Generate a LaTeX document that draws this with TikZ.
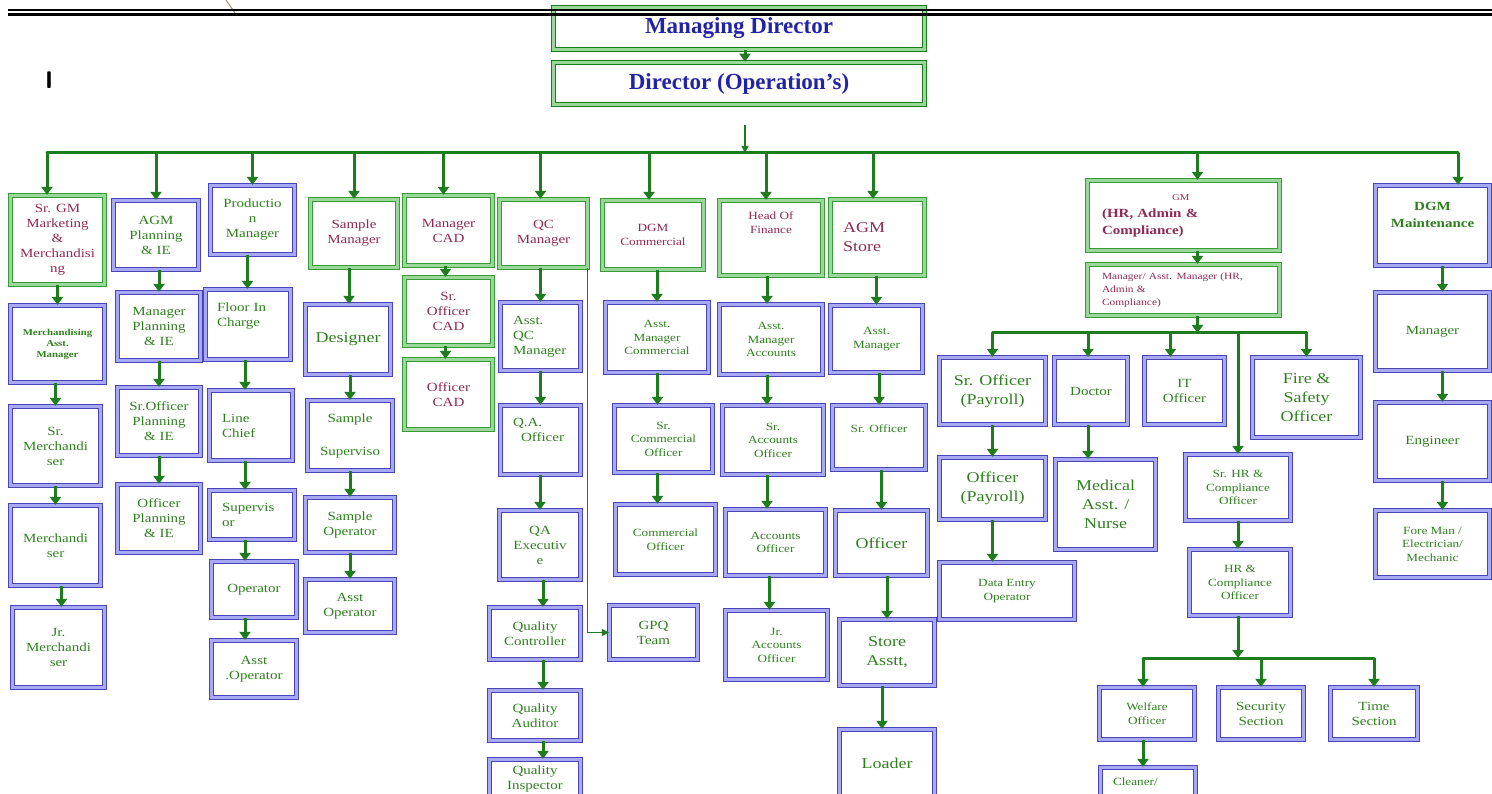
\documentclass[tikz,border=0pt]{standalone}
\usepackage{fontspec}
\setmainfont{Liberation Serif}
\newfontfamily\boxfont[FakeStretch=1.2]{Liberation Serif}
\usetikzlibrary{arrows.meta}
\definecolor{lgreen}{HTML}{1E7B1E}
\definecolor{gframe}{HTML}{3A9A3A}
\definecolor{gfill}{HTML}{9AD89A}
\definecolor{bframe}{HTML}{4646B8}
\definecolor{bfill}{HTML}{A8A8F5}
\definecolor{maroon}{HTML}{8E2A55}
\definecolor{tgreen}{HTML}{2F7F1F}
\definecolor{tblue}{HTML}{2323A6}
\definecolor{penbrown}{HTML}{B08A6A}
\tikzset{
	orgnode/.style={rectangle, align=center, inner sep=2pt, line width=1.3pt, double distance=2.4pt},
	gbox/.style={orgnode, draw=gframe, double=gfill, text=maroon},
	bbox/.style={orgnode, draw=bframe, double=bfill, text=tgreen},
	topbox/.style={orgnode, draw=lgreen, double=gfill, line width=1.6pt, double distance=2.2pt, text=tblue, font=\fontsize{23}{26}\selectfont\bfseries},
	tinytext/.style={font=\boxfont\fontsize{9.5}{13}\selectfont},
	boldtiny/.style={font=\boxfont\fontsize{9}{11}\selectfont\bfseries},
	smalltext/.style={font=\boxfont\fontsize{11}{13.5}\selectfont},
	midtext/.style={font=\boxfont\fontsize{12.5}{15}\selectfont},
	boldmid/.style={font=\boxfont\fontsize{12.5}{17}\selectfont\bfseries},
	bigtext/.style={font=\boxfont\fontsize{15}{19}\selectfont},
	leftset/.style={align=left, text width=#1},
	arr/.style={draw=lgreen, line width=3pt, -{Triangle[width=11pt,length=8pt]}},
	thinarr/.style={draw=lgreen, line width=1.3pt, -{Triangle[width=7pt,length=7pt]}},
	busline/.style={draw=lgreen, line width=3pt, line cap=round}
}
\def\orgbox[#1](#2)(#3:#4:#5:#6)#7{\node[#1, minimum width={(#5-#3-5)*1pt}, minimum height={(#6-#4-5)*1pt}] (#2) at ({(#3+#5)/2},{(#4+#6)/2}) {#7};}

\begin{document}
\begin{tikzpicture}[x=1pt, y=-1pt]
			%%%%% START %%%%%
			\useasboundingbox (0,0) rectangle (1492,794);
			\clip (0,0) rectangle (1492,794);
			
			\draw[penbrown, line width=1pt] (226,0) -- (235,13);
			\node[font=\sffamily\bfseries\fontsize{24}{24}\selectfont] (mark) at (49,80) {I};
			
			\orgbox[topbox](md)(551:5:927:52){Managing Director}
			\orgbox[topbox](dirops)(551:60:927:107){Director (Operation’s)}
			
			\draw[line width=1.2pt] (8,10) -- (1492,10);
			\draw[line width=3.4pt] (8,14.4) -- (1492,14.4);
			
			\orgbox[gbox,midtext](srgm)(8:193:107:287){Sr. GM\\Marketing\\\&\\Merchandisi\\ng}
			\orgbox[bbox,boldtiny](mam)(8:303:107:385){Merchandising\\Asst.\\Manager}
			\orgbox[bbox,midtext](srmer)(8:404:103:488){Sr.\\Merchandi\\ser}
			\orgbox[bbox,midtext](mer)(8:503:103:588){Merchandi\\ser}
			\orgbox[bbox,midtext](jrmer)(10:605:107:690){Jr.\\Merchandi\\ser}
			
			\orgbox[bbox,midtext](agmp)(111:198:201:272){AGM\\Planning\\\& IE}
			\orgbox[bbox,midtext](mgrp)(115:290:203:363){Manager\\Planning\\\& IE}
			\orgbox[bbox,midtext](srop)(115:385:203:458){Sr.Officer\\Planning\\\& IE}
			\orgbox[bbox,midtext](offp)(115:482:203:555){Officer\\Planning\\\& IE}
			
			\orgbox[bbox,midtext](prodm)(208:183:297:257){Productio\\n\\Manager}
			\orgbox[bbox,midtext,leftset=62pt](floor)(203:287:293:362){Floor In\\Charge\\\strut}
			\orgbox[bbox,midtext,leftset=58pt](line)(207:388:295:463){Line\\Chief}
			\orgbox[bbox,midtext,leftset=60pt](sup)(207:488:297:542){Supervis\\or}
			\orgbox[bbox,midtext](oper)(209:559:299:620){Operator}
			\orgbox[bbox,midtext](asstop)(209:638:299:700){Asst\\.Operator}
			
			\orgbox[gbox,midtext](sampm)(308:197:400:270){Sample\\Manager}
			\orgbox[bbox,bigtext](design)(303:302:393:377){Designer}
			\orgbox[bbox,midtext](sampsup)(305:398:395:473){Sample\\[18pt]Superviso}
			\orgbox[bbox,midtext](sampop)(303:495:397:555){Sample\\Operator}
			\orgbox[bbox,midtext](asstopb)(303:577:397:635){Asst\\Operator}
			
			\orgbox[gbox,midtext](mcad)(402:193:495:268){Manager\\CAD}
			\orgbox[gbox,midtext](srcad)(402:275:495:348){Sr.\\Officer\\CAD}
			\orgbox[gbox,midtext](ocad)(402:357:495:432){Officer\\CAD}
			
			\orgbox[gbox,midtext](qcm)(497:197:590:270){QC\\Manager}
			\orgbox[bbox,midtext,leftset=55pt](aqcm)(498:300:583:373){Asst.\\QC\\Manager}
			\orgbox[bbox,midtext,leftset=55pt](qao)(498:403:583:477){Q.A.\\\hspace*{8pt}Officer\\\strut}
			\orgbox[bbox,midtext](qae)(497:508:583:582){QA\\Executiv\\e}
			\orgbox[bbox,midtext](qcon)(487:605:583:662){Quality\\Controller}
			\orgbox[bbox,midtext](qaud)(487:688:583:743){Quality\\Auditor}
			\orgbox[bbox,midtext](qins)(487:757:583:801){Quality\\Inspector}
			\orgbox[bbox,midtext](gpq)(607:603:700:662){GPQ\\Team}
			
			\orgbox[gbox,smalltext](dgmc)(600:198:706:272){DGM\\Commercial}
			\orgbox[bbox,smalltext](amc)(603:300:711:375){Asst.\\Manager\\Commercial}
			\orgbox[bbox,smalltext](scom)(612:403:715:475){Sr.\\Commercial\\Officer}
			\orgbox[bbox,smalltext](com)(613:502:718:577){Commercial\\Officer}
			
			\orgbox[gbox,smalltext](hof)(717:198:825:278){Head Of\\Finance\\\strut\\\strut}
			\orgbox[bbox,smalltext](ama)(717:302:825:377){Asst.\\Manager\\Accounts}
			\orgbox[bbox,smalltext](sao)(720:403:826:477){Sr.\\Accounts\\Officer}
			\orgbox[bbox,smalltext](ao)(723:507:828:578){Accounts\\Officer}
			\orgbox[bbox,smalltext](jao)(723:608:830:682){Jr.\\Accounts\\Officer}
			
			\orgbox[gbox,bigtext,leftset=69pt](agms)(828:197:927:278){AGM\\Store}
			\orgbox[bbox,smalltext](asm)(828:303:925:375){Asst.\\Manager}
			\orgbox[bbox,smalltext](sro)(830:403:928:472){Sr. Officer\\\strut}
			\orgbox[bbox,bigtext](storeoff)(833:508:930:578){Officer}
			\orgbox[bbox,bigtext](sta)(837:617:937:688){Store\\Asstt,}
			\orgbox[bbox,bigtext](load)(837:727:937:800){Loader}
			
			\orgbox[gbox,boldmid,leftset=163pt](gmhr)(1085:178:1282:253){\hspace*{70pt}{\mdseries\fontsize{9}{10}\selectfont GM}\\(HR, Admin \&\\Compliance)}
			\orgbox[gbox,tinytext,leftset=163pt](mgrhr)(1085:262:1282:318){Manager/ Asst. Manager (HR,\\Admin \&\\Compliance)}
			\orgbox[bbox,bigtext](srpay)(937:355:1048:427){Sr. Officer\\(Payroll)}
			\orgbox[bbox,midtext](doctor)(1052:355:1130:427){Doctor}
			\orgbox[bbox,midtext](itoff)(1142:355:1227:427){IT\\Officer}
			\orgbox[bbox,bigtext](fire)(1250:355:1363:440){Fire \&\\Safety\\Officer}
			\orgbox[bbox,bigtext](opay)(937:455:1048:522){Officer\\(Payroll)}
			\orgbox[bbox,bigtext](med)(1053:457:1158:552){Medical\\Asst. /\\Nurse}
			\orgbox[bbox,smalltext](deo)(937:560:1077:622){Data Entry\\Operator}
			\orgbox[bbox,smalltext](srhr)(1183:452:1293:523){Sr. HR \&\\Compliance\\Officer}
			\orgbox[bbox,smalltext](hrco)(1187:547:1293:618){HR \&\\Compliance\\Officer}
			\orgbox[bbox,smalltext](welf)(1097:685:1197:742){Welfare\\Officer}
			\orgbox[bbox,midtext](sec)(1216:685:1306:742){Security\\Section}
			\orgbox[bbox,midtext](timesec)(1328:685:1420:742){Time\\Section}
			\orgbox[bbox,smalltext,leftset=70pt](clean)(1098:765:1198:815){Cleaner/\\\strut}
			
			\orgbox[bbox,boldmid](dgmm)(1373:183:1492:268){DGM\\Maintenance\\\strut}
			\orgbox[bbox,midtext](mman)(1373:290:1492:373){Manager}
			\orgbox[bbox,midtext](eng)(1373:400:1492:483){Engineer}
			\orgbox[bbox,smalltext](fore)(1373:508:1492:580){Fore Man /\\Electrician/\\Mechanic}
			
			\coordinate (opsgap) at (745,125);
			\coordinate (bus) at (745,153);
			\coordinate (hrbus) at (1197,333);
			\coordinate (cbus) at (1238,658);
			
			\draw[arr] ([xshift=6pt]md.south) -- ([xshift=6pt]dirops.north);
			\draw[thinarr] (opsgap) -- (bus);
			\draw[busline] ([xshift=-10.5pt]srgm.north |- bus) -- ([xshift=25.5pt]dgmm.north |- bus);
			\draw[arr] ([xshift=-10.5pt]srgm.north |- bus) -- ([xshift=-10.5pt]srgm.north);
			\draw[arr] (agmp.north |- bus) -- (agmp.north);
			\draw[arr] (prodm.north |- bus) -- (prodm.north);
			\draw[arr] (sampm.north |- bus) -- (sampm.north);
			\draw[arr] ([xshift=-5pt]mcad.north |- bus) -- ([xshift=-5pt]mcad.north);
			\draw[arr] ([xshift=-3pt]qcm.north |- bus) -- ([xshift=-3pt]qcm.north);
			\draw[arr] ([xshift=-4pt]dgmc.north |- bus) -- ([xshift=-4pt]dgmc.north);
			\draw[arr] ([xshift=-5pt]hof.north |- bus) -- ([xshift=-5pt]hof.north);
			\draw[arr] ([xshift=-4.5pt]agms.north |- bus) -- ([xshift=-4.5pt]agms.north);
			\draw[arr] ([xshift=14pt]gmhr.north |- bus) -- ([xshift=14pt]gmhr.north);
			\draw[arr] ([xshift=25.5pt]dgmm.north |- bus) -- ([xshift=25.5pt]dgmm.north);
			
			\draw[arr] (srgm.south -| mam.north) -- (mam.north);
			\draw[arr] (mam.south -| srmer.north) -- (srmer.north);
			\draw[arr] (srmer.south -| mer.north) -- (mer.north);
			\draw[arr] ([xshift=6pt]mer.south) -- ([xshift=6pt]mer.south |- jrmer.north);
			
			\draw[arr] (agmp.south -| mgrp.north) -- (mgrp.north);
			\draw[arr] (mgrp.south) -- (srop.north);
			\draw[arr] (srop.south) -- (offp.north);
			
			\draw[arr] ([xshift=-5pt]prodm.south) -- ([xshift=-5pt]prodm.south |- floor.north);
			\draw[arr] ([xshift=-3pt]floor.south) -- ([xshift=-3pt]floor.south |- line.north);
			\draw[arr] ([xshift=-6pt]line.south) -- ([xshift=-6pt]line.south |- sup.north);
			\draw[arr] ([xshift=-7pt]sup.south) -- ([xshift=-7pt]sup.south |- oper.north);
			\draw[arr] ([xshift=-9pt]oper.south) -- ([xshift=-9pt]asstop.north);
			
			\draw[arr] ([xshift=-5pt]sampm.south) -- ([xshift=-5pt]sampm.south |- design.north);
			\draw[arr] (design.south -| sampsup.north) -- (sampsup.north);
			\draw[arr] (sampsup.south -| sampop.north) -- (sampop.north);
			\draw[arr] (sampop.south) -- (asstopb.north);
			
			\draw[arr] ([xshift=-3pt]mcad.south) -- ([xshift=-3pt]srcad.north);
			\draw[arr] ([xshift=-3pt]srcad.south) -- ([xshift=-3pt]ocad.north);
			
			\draw[arr] (qcm.south -| aqcm.north) -- (aqcm.north);
			\draw[arr] (aqcm.south) -- (qao.north);
			\draw[arr] (qao.south -| qae.north) -- (qae.north);
			\draw[arr] ([xshift=3pt]qae.south) -- ([xshift=3pt]qae.south |- qcon.north);
			\draw[arr] ([xshift=8pt]qcon.south) -- ([xshift=8pt]qaud.north);
			\draw[arr] ([xshift=8pt]qaud.south) -- ([xshift=8pt]qins.north);
			\draw[thinarr] ([xshift=-1pt]qcm.south east) |- (gpq.west);
			
			\draw[arr] (dgmc.south -| amc.north) -- (amc.north);
			\draw[arr] ([xshift=-6pt]amc.south -| scom.north) -- ([xshift=-6pt]scom.north);
			\draw[arr] ([xshift=-6pt]scom.south) -- ([xshift=-6pt]scom.south |- com.north);
			
			\draw[arr] ([xshift=-4pt]hof.south) -- ([xshift=-4pt]ama.north);
			\draw[arr] ([xshift=-4pt]ama.south) -- ([xshift=-4pt]ama.south |- sao.north);
			\draw[arr] ([xshift=-6pt]sao.south) -- ([xshift=-6pt]sao.south |- ao.north);
			\draw[arr] ([xshift=-6pt]ao.south) -- ([xshift=-6pt]ao.south |- jao.north);
			
			\draw[arr] (agms.south -| asm.north) -- (asm.north);
			\draw[arr] (asm.south -| sro.north) -- (sro.north);
			\draw[arr] (sro.south -| storeoff.north) -- (storeoff.north);
			\draw[arr] (storeoff.south -| sta.north) -- (sta.north);
			\draw[arr] ([xshift=-5pt]sta.south) -- ([xshift=-5pt]load.north);
			
			\draw[arr] ([xshift=14pt]gmhr.south) -- ([xshift=14pt]mgrhr.north);
			\draw[arr] ([xshift=14pt]mgrhr.south) -- ([xshift=14pt]mgrhr.south |- hrbus);
			\draw[busline] (srpay.north |- hrbus) -- (fire.north |- hrbus);
			\draw[arr] (srpay.north |- hrbus) -- (srpay.north);
			\draw[arr] ([xshift=-3pt]doctor.north |- hrbus) -- ([xshift=-3pt]doctor.north);
			\draw[arr] ([xshift=-14pt]itoff.north |- hrbus) -- ([xshift=-14pt]itoff.north);
			\draw[arr] (fire.north |- hrbus) -- (fire.north);
			\draw[arr] (srhr.north |- hrbus) -- (srhr.north);
			\draw[arr] (srpay.south) -- (opay.north);
			\draw[arr] (opay.south) -- (opay.south |- deo.north);
			\draw[arr] ([xshift=-3pt]doctor.south) -- ([xshift=-3pt]doctor.south |- med.north);
			\draw[arr] (srhr.south) -- (srhr.south |- hrco.north);
			
			\draw[arr] (srhr.south |- hrco.south) -- (srhr.south |- cbus);
			\draw[busline] ([xshift=-4pt]welf.north |- cbus) -- (timesec.north |- cbus);
			\draw[arr] ([xshift=-4pt]welf.north |- cbus) -- ([xshift=-4pt]welf.north);
			\draw[arr] (sec.north |- cbus) -- (sec.north);
			\draw[arr] (timesec.north |- cbus) -- (timesec.north);
			\draw[arr] ([xshift=-4pt]welf.south) -- ([xshift=-4pt]welf.south |- clean.north);
			
			\draw[arr] ([xshift=10pt]dgmm.south) -- ([xshift=10pt]mman.north);
			\draw[arr] ([xshift=10pt]mman.south) -- ([xshift=10pt]eng.north);
			\draw[arr] ([xshift=10pt]eng.south) -- ([xshift=10pt]fore.north);
			
			%%%%% END %%%%%
\end{tikzpicture}
\end{document}
